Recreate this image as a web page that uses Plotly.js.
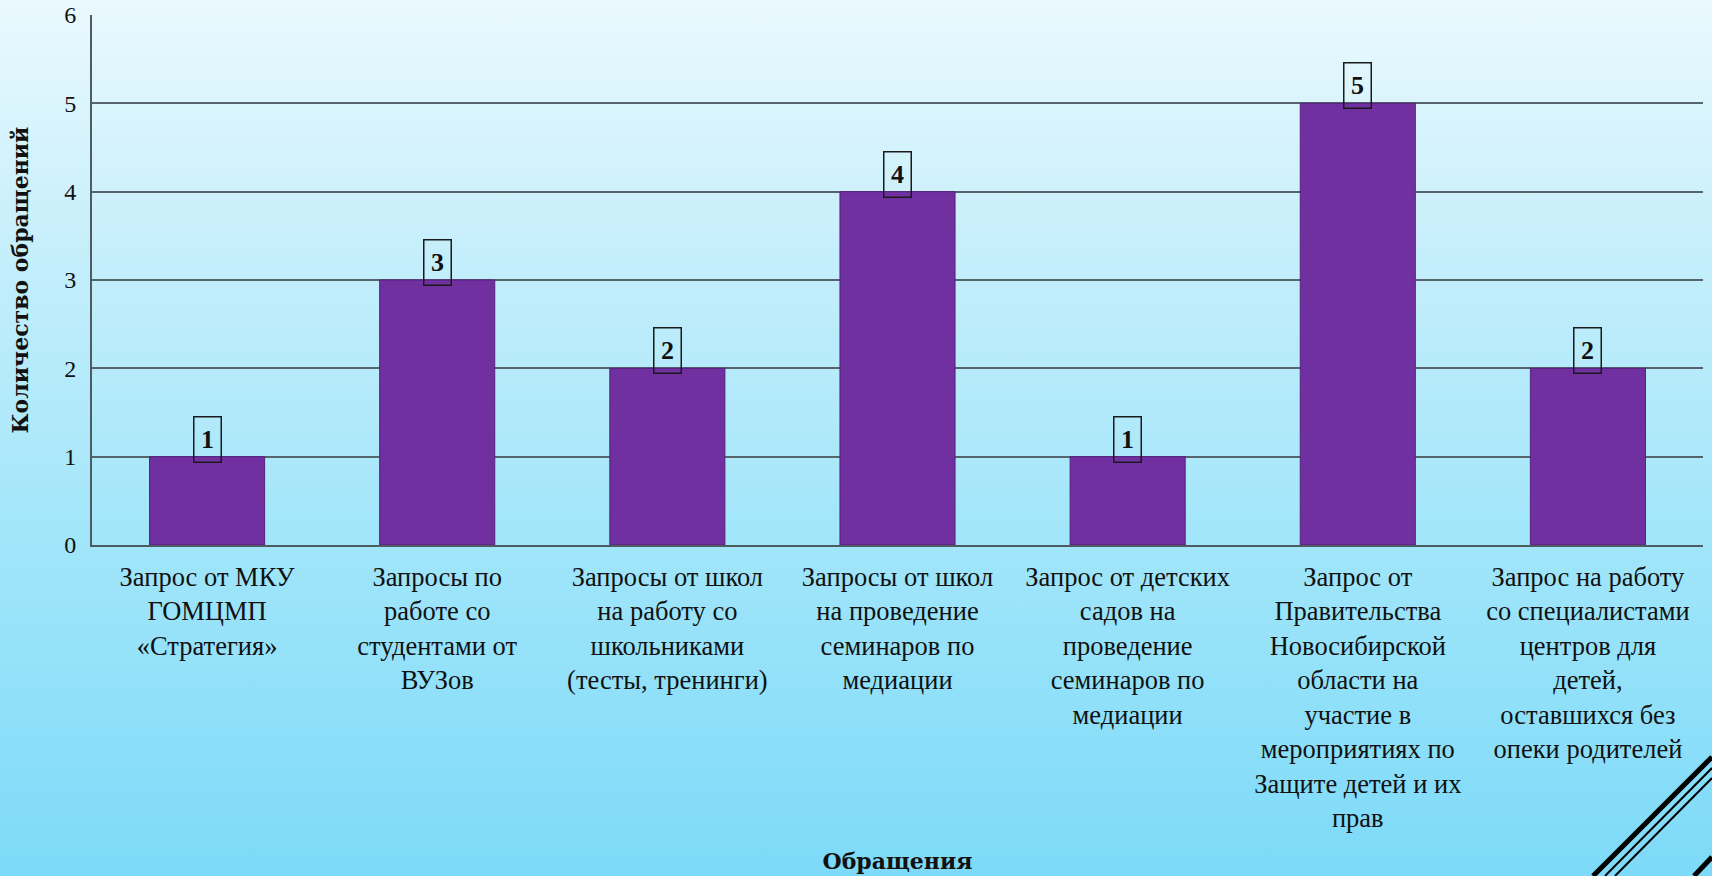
<!DOCTYPE html>
<html>
<head>
<meta charset="utf-8">
<script src="https://cdn.plot.ly/plotly-3.0.1.min.js"></script>
<style>
  html, body { margin: 0; padding: 0; }
  body {
    width: 1712px; height: 876px; overflow: hidden;
    background: linear-gradient(to bottom, #eaf9fe 0%, #c4eefb 30%, #a3e6fa 60%, #7ddaf8 100%);
  }
  #chart { width: 1712px; height: 876px; }
</style>
</head>
<body>
<div id="chart"></div>
<script>
const categories = [
  "Запрос от МКУ ГОМЦМП «Стратегия»",
  "Запросы по работе со студентами от ВУЗов",
  "Запросы от школ на работу со школьниками (тесты, тренинги)",
  "Запросы от школ на проведение семинаров по медиации",
  "Запрос от детских садов на проведение семинаров по медиации",
  "Запрос от Правительства Новосибирской области на участие в мероприятиях по Защите детей и их прав",
  "Запрос на работу со специалистами центров для детей, оставшихся без опеки родителей"
];
const tickLabels = [
  "Запрос от МКУ<br>ГОМЦМП<br>«Стратегия»",
  "Запросы по<br>работе со<br>студентами от<br>ВУЗов",
  "Запросы от школ<br>на работу со<br>школьниками<br>(тесты, тренинги)",
  "Запросы от школ<br>на проведение<br>семинаров по<br>медиации",
  "Запрос от детских<br>садов на<br>проведение<br>семинаров по<br>медиации",
  "Запрос от<br>Правительства<br>Новосибирской<br>области на<br>участие в<br>мероприятиях по<br>Защите детей и их<br>прав",
  "Запрос на работу<br>со специалистами<br>центров для<br>детей,<br>оставшихся без<br>опеки родителей"
];
const values = [1, 3, 2, 4, 1, 5, 2];
const yTickVals = [0, 1, 2, 3, 4, 5, 6];
const yTitle = "Количество обращений";
const xTitle = "Обращения";

const serif = "'Liberation Serif', 'Times New Roman', Times, serif";
const titleSerif = "'DejaVu Serif', 'Liberation Serif', serif";

const trace = {
  type: "bar",
  x: categories,
  y: values,
  marker: { color: "#7030a0", line: { color: "#55207e", width: 1 } },
  hoverinfo: "skip"
};

const annotations = values.map((v, i) => ({
  x: categories[i], y: v, xref: "x", yref: "y",
  text: "<b>" + v + "</b>",
  showarrow: false,
  yanchor: "bottom",
  yshift: -6,
  width: 26, height: 44,
  bordercolor: "#1a1a1a", borderwidth: 1.5, borderpad: 0,
  font: { family: serif, size: 26, color: "#111" }
}));

const layout = {
  width: 1712, height: 876,
  margin: { l: 92, r: 9, t: 15, b: 331 },
  paper_bgcolor: "rgba(0,0,0,0)",
  plot_bgcolor: "rgba(0,0,0,0)",
  showlegend: false,
  bargap: 0.5,
  font: { family: serif, color: "#111" },
  xaxis: {
    type: "category",
    tickvals: categories,
    ticktext: tickLabels,
    tickangle: 0,
    tickfont: { family: serif, size: 26.5, color: "#111" },
    ticks: "",
    ticklabelstandoff: 7,
    showline: true, linecolor: "#4e5c62", linewidth: 2,
    showgrid: false,
    title: { text: "<b>" + xTitle + "</b>", font: { family: titleSerif, size: 22, color: "#111" }, standoff: 22 }
  },
  yaxis: {
    range: [0, 6],
    tickvals: yTickVals,
    tickfont: { family: serif, size: 24, color: "#111" },
    ticks: "",
    ticklabelstandoff: 9,
    showline: true, linecolor: "#4e5c62", linewidth: 2,
    showgrid: true, gridcolor: "#56656b", gridwidth: 2,
    zeroline: false,
    title: { text: "<b>" + yTitle + "</b>", font: { family: titleSerif, size: 22, color: "#111" }, standoff: 30 }
  },
  annotations: annotations,
  shapes: [
    { type: "line", xref: "paper", yref: "paper", x0: (1593-92)/1611, y0: -(876-545)/530, x1: (1712-92)/1611, y1: -(757-545)/530, line: { color: "#000", width: 5 } },
    { type: "line", xref: "paper", yref: "paper", x0: (1605-92)/1611, y0: -(876-545)/530, x1: (1712-92)/1611, y1: -(768-545)/530, line: { color: "#000", width: 2 } },
    { type: "line", xref: "paper", yref: "paper", x0: (1615-92)/1611, y0: -(876-545)/530, x1: (1712-92)/1611, y1: -(778-545)/530, line: { color: "#000", width: 2 } },
    { type: "line", xref: "paper", yref: "paper", x0: (1694-92)/1611, y0: -(876-545)/530, x1: (1712-92)/1611, y1: -(857-545)/530, line: { color: "#000", width: 5 } }
  ]
};

Plotly.newPlot("chart", [trace], layout, { displayModeBar: false, staticPlot: true });
</script>
</body>
</html>
